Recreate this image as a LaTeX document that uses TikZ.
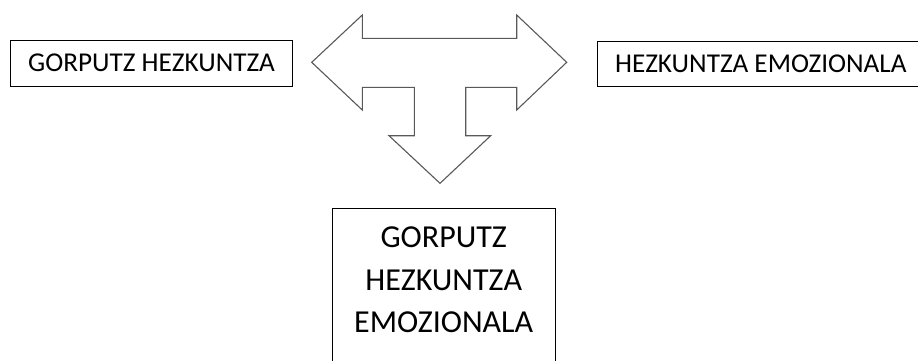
\documentclass[tikz,border=0pt]{standalone}
\usepackage{fontspec}
\setmainfont{Carlito}

\tikzset{
  titlebox/.style={draw, line width=0.9pt, inner sep=0pt, text height=17pt, text depth=0pt,
    font=\fontsize{27.2}{30}\selectfont},
  blockarrow/.style={draw=black!65, line width=1.1pt, line join=miter}
}

\begin{document}
\begin{tikzpicture}[x=1pt,y=-1pt]
    \useasboundingbox (0,0) rectangle (918,360);
    \clip (0,0) rectangle (918,360);

    % three-way block arrow
    \draw[blockarrow] (311.7,62.3) -- (362.3,15) -- (362.3,38.3) -- (516.7,38.3) -- (516.7,15)
        -- (566.7,62.3) -- (516.7,110) -- (516.7,87.3) -- (465.7,87.3) -- (465.7,135.7)
        -- (490.7,135.7) -- (440,183.3) -- (389,135.7) -- (414.3,135.7) -- (414.3,87.3)
        -- (362.3,87.3) -- (362.3,110) -- cycle;

    \node[titlebox, minimum width=281.6pt, minimum height=45.3pt] (gorputz) at (151.5,63.4) {GORPUTZ HEZKUNTZA};
    \node[titlebox, anchor=west, inner xsep=18pt, minimum height=45.7pt] (emozio) at (596.7,63.8) {HEZKUNTZA EMOZIONALA};
    \node[titlebox, anchor=north, minimum width=222.7pt, align=center,
        font=\fontsize{32}{42.7}\selectfont, text height=124pt, text depth=40pt] (biak) at (443.7,208.3)
        {GORPUTZ\\HEZKUNTZA\\EMOZIONALA};

\end{tikzpicture}
\end{document}
